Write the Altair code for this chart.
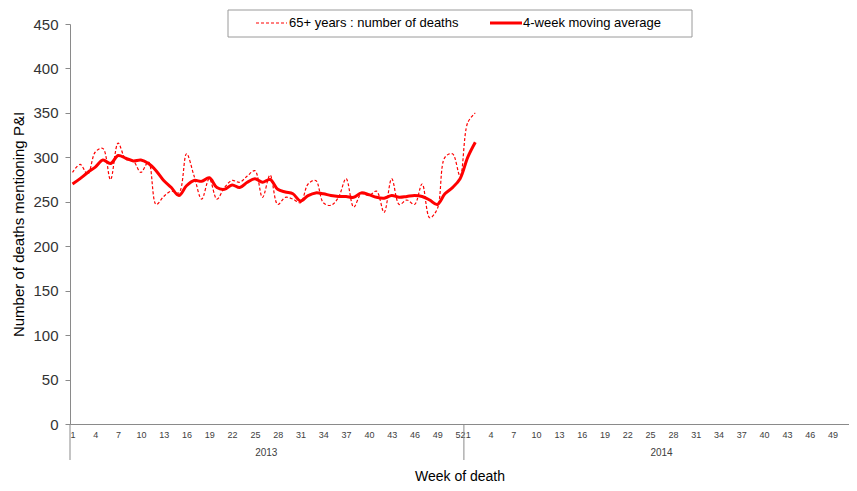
import altair as alt
import pandas as pd

# Week index: 1..52 = 2013 weeks, 53..104 = 2014 weeks
week_index = list(range(1, 55))
deaths = [283, 292, 281, 306, 310, 275, 316, 298, 296, 283, 295, 247, 256, 262, 260,
          304, 279, 253, 276, 253, 266, 274, 272, 279, 285, 255, 280, 247, 255, 253,
          249, 270, 274, 249, 246, 255, 276, 244, 259, 257, 262, 238, 276, 247, 252,
          247, 270, 232, 242, 300, 304, 279, 339, 350]
moving_avg = [270, 276, 283, 289, 297, 293, 302, 299, 296, 297, 293, 285, 274, 266, 257,
              268, 274, 273, 277, 266, 264, 269, 266, 272, 276, 272, 275, 264, 261, 259,
              251, 257, 260, 259, 257, 256, 256, 255, 260, 258, 255, 254, 257, 255, 256,
              257, 256, 252, 247, 259, 266, 276, 300, 317]

years = ["2013", "2014"]
year_centers = [26.5, 78.5]
separators = [0.671, 52.5]
tick_weeks = list(range(1, 53, 3)) + list(range(53, 102, 3))
y_ticks = list(range(0, 451, 50))

legend_labels = ["65+ years : number of deaths", "4-week moving average"]

W, H = 779, 400
XD = [0.671, 0.671 + W / 7.6]
RED = "#FF0000"
GREY = "#8A8A8A"

df = pd.DataFrame({"t": week_index, "deaths": deaths, "avg": moving_avg})
xscale = alt.Scale(domain=XD, nice=False, zero=False)
yscale = alt.Scale(domain=[0, 450], nice=False)

x_axis = alt.Axis(values=tick_weeks,
                  labelExpr="((datum.value - 1) % 52) + 1",
                  ticks=False, grid=False, domainColor=GREY,
                  labelFontSize=9, labelColor="#404040", labelPadding=6,
                  labelFlush=False, labelOverlap=False, labelBound=False,
                  title="Week of death", titleFontSize=14,
                  titleFontWeight="normal", titleColor="#000000",
                  titlePadding=30)
y_axis = alt.Axis(values=y_ticks, grid=False, domainColor=GREY,
                  tickColor=GREY, tickSize=5, labelFontSize=15,
                  labelColor="#333333", labelPadding=7,
                  title="Number of deaths mentioning P&I",
                  titleFontSize=15, titleFontWeight="normal",
                  titleColor="#000000", titlePadding=6)

base = alt.Chart(df)

dashed = base.mark_line(color=RED, strokeWidth=1.2, strokeDash=[3, 2],
                        interpolate="catmull-rom").encode(
    x=alt.X("t:Q", scale=xscale, axis=x_axis),
    y=alt.Y("deaths:Q", scale=yscale, axis=y_axis),
)

solid = base.mark_line(color=RED, strokeWidth=3,
                       interpolate="catmull-rom").encode(
    x=alt.X("t:Q", scale=xscale, axis=x_axis),
    y=alt.Y("avg:Q", scale=yscale, axis=y_axis),
)

sep_df = pd.DataFrame({"t": separators})
seps = alt.Chart(sep_df).mark_rule(color=GREY, strokeWidth=1).encode(
    x=alt.X("t:Q", scale=xscale, axis=x_axis),
    y=alt.value(H),
    y2=alt.value(H + 36),
)

yr_df = pd.DataFrame({"t": year_centers, "label": years})
yr_text = alt.Chart(yr_df).mark_text(fontSize=10, color="#404040",
                                     baseline="middle").encode(
    x=alt.X("t:Q", scale=xscale, axis=x_axis),
    y=alt.value(H + 29),
    text="label:N",
)

one = pd.DataFrame({"a": [0]})
leg_box = alt.Chart(one).mark_rect(fill="white", stroke="#9A9A9A",
                                   strokeWidth=1).encode(
    x=alt.value(158), x2=alt.value(622), y=alt.value(-14), y2=alt.value(13))
leg_dash = alt.Chart(one).mark_rule(color=RED, strokeWidth=1.2,
                                    strokeDash=[3, 2]).encode(
    x=alt.value(186), x2=alt.value(217), y=alt.value(-1))
leg_solid = alt.Chart(one).mark_rule(color=RED, strokeWidth=3).encode(
    x=alt.value(420), x2=alt.value(452), y=alt.value(-1))
leg_t1 = alt.Chart(one).mark_text(align="left", baseline="middle", fontSize=13,
                                  color="#000000", text=legend_labels[0]).encode(
    x=alt.value(219), y=alt.value(-1))
leg_t2 = alt.Chart(one).mark_text(align="left", baseline="middle", fontSize=13,
                                  color="#000000", text=legend_labels[1]).encode(
    x=alt.value(453), y=alt.value(-1))

chart = alt.layer(dashed, solid, seps, yr_text, leg_box, leg_dash, leg_solid,
                  leg_t1, leg_t2).properties(
    width=W, height=H,
    autosize=alt.AutoSizeParams(type="none"),
    padding={"left": 62, "top": 16, "right": 0, "bottom": 59},
).configure(font="Liberation Sans").configure_view(stroke=None).configure_axisX(
    labelOverlap=False)

chart.save("out.html", embed_options={"renderer": "svg", "actions": False})
